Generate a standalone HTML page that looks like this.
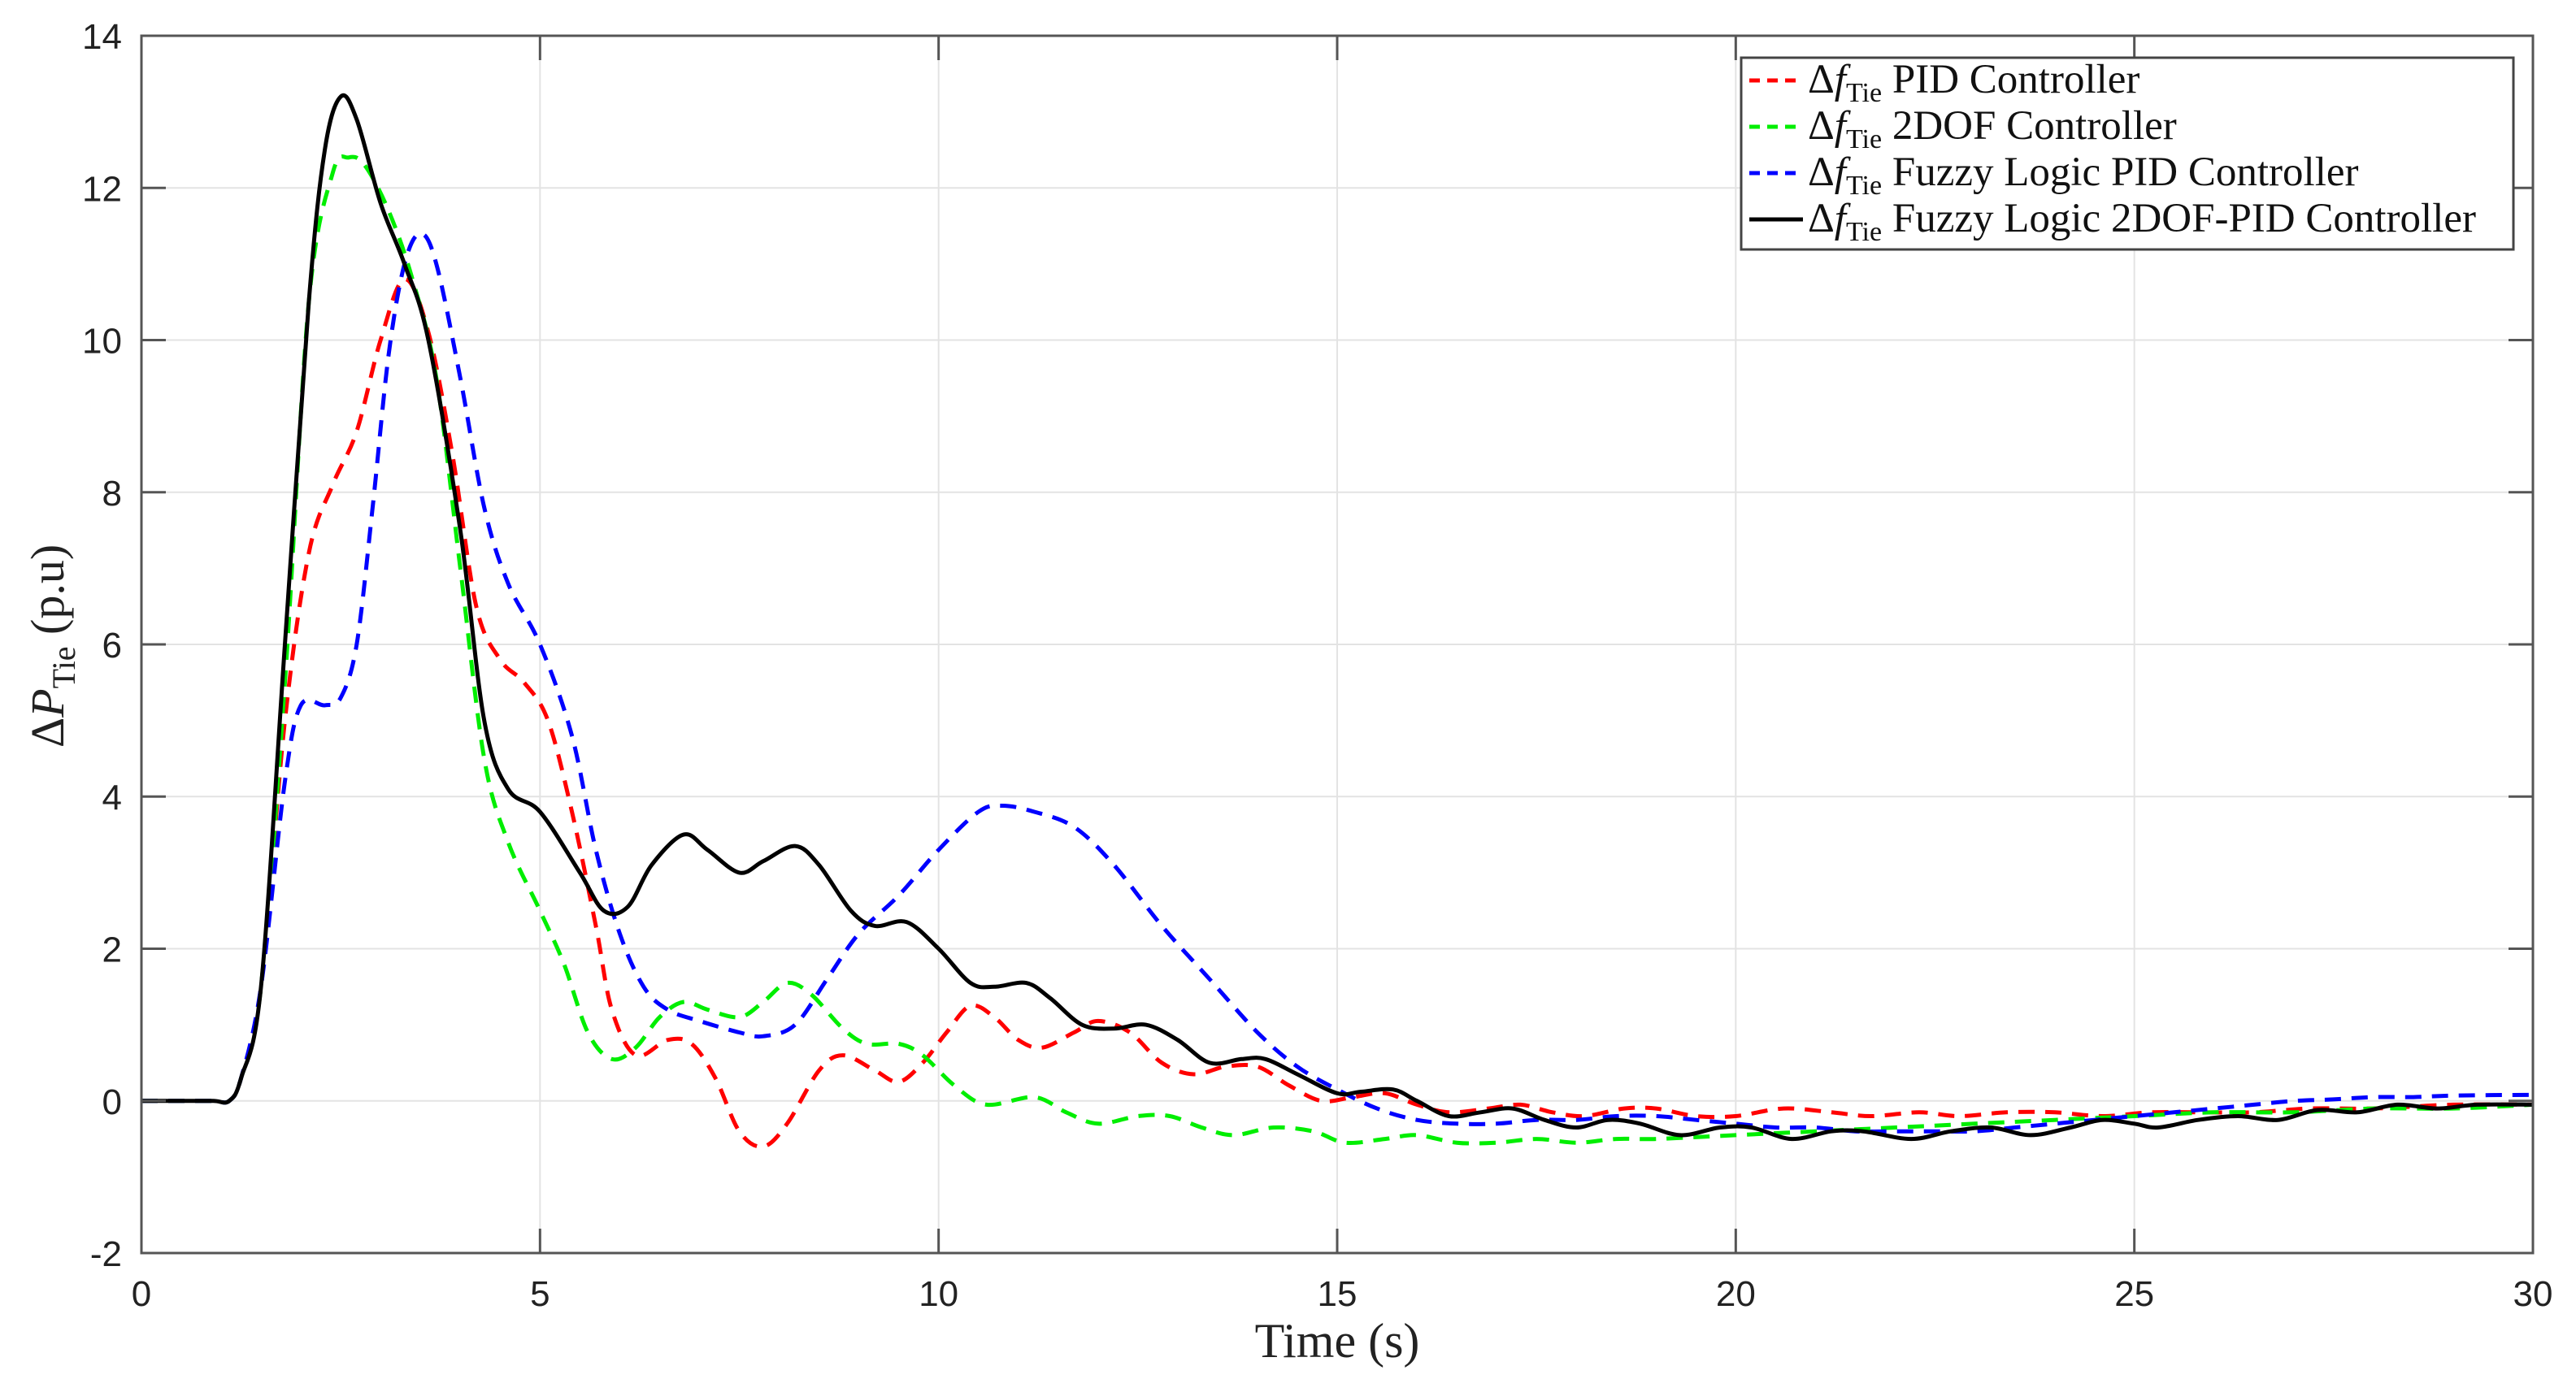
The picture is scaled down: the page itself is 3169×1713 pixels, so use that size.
<!DOCTYPE html>
<html><head><meta charset="utf-8"><style>
html,body{margin:0;padding:0;background:#fff;}
svg{display:block;}
</style></head><body>
<svg id="chart" width="3169" height="1713" viewBox="0 0 3169 1713" xmlns="http://www.w3.org/2000/svg">
<rect x="0" y="0" width="3169" height="1713" fill="#fff"/>
<g id="grid"></g>
<g id="series"></g>
<g id="axes"></g>
<text x="1645" y="1670" font-family="Liberation Serif, serif" font-size="60" text-anchor="middle" fill="#222">Time (s)</text>
<g transform="translate(78,795) rotate(-90)">
<text x="0" y="0" font-family="Liberation Serif, serif" font-size="58" text-anchor="middle" fill="#222">Δ<tspan font-style="italic">P</tspan><tspan font-size="40" dy="14">Tie</tspan><tspan dy="-14"> (p.u)</tspan></text>
</g>
<g id="legend">
<rect x="2142" y="71" width="950" height="236" fill="#fff" stroke="#444" stroke-width="3"/>
</g>
</svg>
<script>
const xTicks=[0,5,10,15,20,25,30];
const yTicks=[-2,0,2,4,6,8,10,12,14];
const tRed=[0,0.5,0.9,1.1,1.25,1.5,1.8,2.1,2.4,2.7,3.0,3.3,3.6,3.9,4.2,4.5,4.8,5.1,5.4,5.7,5.9,6.2,6.6,6.9,7.2,7.5,7.8,8.1,8.5,8.8,9.2,9.5,9.8,10.1,10.4,10.7,11.0,11.3,11.7,12.0,12.4,12.8,13.2,13.6,14.0,14.4,14.8,15.2,15.6,16.0,16.4,16.9,17.3,17.7,18.1,18.6,19.0,19.5,20.0,20.6,21.2,21.7,22.3,22.8,23.4,24.0,24.6,25.2,25.8,26.5,27.2,28,29,30];
const vRed=[0,0,0,0,0.3,1.5,5,7.2,8.1,8.8,10.0,10.8,10.1,8.5,6.5,5.8,5.5,5.0,3.8,2.3,1.2,0.6,0.8,0.75,0.3,-0.4,-0.6,-0.3,0.4,0.6,0.4,0.25,0.5,0.9,1.25,1.1,0.8,0.7,0.9,1.05,0.9,0.5,0.35,0.45,0.45,0.2,0.0,0.05,0.1,-0.05,-0.15,-0.1,-0.05,-0.15,-0.2,-0.1,-0.1,-0.2,-0.2,-0.1,-0.15,-0.2,-0.15,-0.2,-0.15,-0.15,-0.2,-0.15,-0.15,-0.15,-0.1,-0.1,-0.05,-0.05];
const tGreen=[0,0.5,0.9,1.1,1.25,1.5,1.8,2.1,2.4,2.6,2.8,3.1,3.4,3.7,4.0,4.3,4.6,5.0,5.3,5.6,5.9,6.2,6.5,6.8,7.1,7.5,7.8,8.1,8.4,8.8,9.1,9.5,9.8,10.2,10.6,11.2,11.6,12.0,12.5,12.9,13.3,13.7,14.2,14.7,15.1,15.6,16.0,16.5,17.0,17.5,18.0,18.5,19.0,20,21,22,23,24,25,26,27,28,29,30];
const vGreen=[0,0,0,0,0.3,1.5,5.5,10.5,12.2,12.4,12.3,11.7,10.8,9.5,7.0,4.5,3.4,2.5,1.8,0.9,0.55,0.7,1.1,1.3,1.2,1.1,1.3,1.55,1.4,0.95,0.75,0.75,0.6,0.2,-0.05,0.05,-0.15,-0.3,-0.2,-0.2,-0.35,-0.45,-0.35,-0.4,-0.55,-0.5,-0.45,-0.55,-0.55,-0.5,-0.55,-0.5,-0.5,-0.45,-0.4,-0.35,-0.3,-0.25,-0.2,-0.15,-0.15,-0.1,-0.1,-0.05];
const tBlue=[0,0.5,0.9,1.1,1.25,1.5,1.8,2.0,2.3,2.5,2.7,2.9,3.1,3.3,3.5,3.7,4.0,4.3,4.6,5.0,5.4,5.7,6.0,6.3,6.6,7.0,7.5,7.8,8.2,8.6,9.0,9.5,10.0,10.5,10.8,11.2,11.7,12.2,12.8,13.4,14.0,14.5,15.0,15.5,16.0,16.5,17.0,17.5,18.0,18.5,19,19.5,20,20.5,21,21.5,22,22.5,23,23.5,24,24.5,25,25.5,26,26.5,27,27.5,28,28.5,29,30];
const vBlue=[0,0,0,0,0.3,1.5,4.2,5.2,5.2,5.3,6.0,7.8,9.8,11.0,11.4,11.0,9.5,7.8,6.8,6.0,4.8,3.3,2.2,1.5,1.2,1.05,0.9,0.85,1.0,1.6,2.2,2.7,3.3,3.8,3.88,3.8,3.6,3.1,2.3,1.6,0.9,0.45,0.15,-0.1,-0.25,-0.3,-0.3,-0.25,-0.25,-0.2,-0.2,-0.25,-0.3,-0.35,-0.35,-0.4,-0.4,-0.4,-0.4,-0.35,-0.3,-0.25,-0.2,-0.15,-0.1,-0.05,0,0.02,0.05,0.05,0.07,0.08];
const tBlack=[0,0.5,0.9,1.1,1.25,1.5,1.8,2.1,2.3,2.5,2.7,3.0,3.3,3.6,4.0,4.3,4.6,5.0,5.5,5.8,6.1,6.4,6.8,7.1,7.5,7.8,8.2,8.5,8.9,9.2,9.6,10.0,10.4,10.7,11.1,11.4,11.8,12.2,12.6,13.0,13.4,13.8,14.1,14.5,15.0,15.3,15.7,16.0,16.4,16.8,17.2,17.6,18.0,18.4,18.8,19.3,19.8,20.2,20.7,21.2,21.6,22.2,22.7,23.2,23.7,24.2,24.6,25.0,25.3,25.8,26.3,26.8,27.3,27.8,28.3,28.8,29.3,30];
const vBlack=[0,0,0,0,0.3,1.5,6,10.5,12.5,13.2,12.9,11.8,11.0,10.0,7.5,5.0,4.1,3.8,3.0,2.5,2.55,3.1,3.5,3.3,3.0,3.15,3.35,3.1,2.5,2.3,2.35,2.0,1.55,1.5,1.55,1.35,1.0,0.95,1.0,0.8,0.5,0.55,0.55,0.35,0.1,0.12,0.15,0.0,-0.2,-0.15,-0.1,-0.25,-0.35,-0.25,-0.3,-0.45,-0.35,-0.35,-0.5,-0.4,-0.4,-0.5,-0.4,-0.35,-0.45,-0.35,-0.25,-0.3,-0.35,-0.25,-0.2,-0.25,-0.12,-0.15,-0.05,-0.1,-0.05,-0.05];

const NS='http://www.w3.org/2000/svg';
const L=174,R=3116,T=44,B=1542;
const xMin=0,xMax=30,yMin=-2,yMax=14;
function sx(v){return L+(v-xMin)/(xMax-xMin)*(R-L);}
function sy(v){return B-(v-yMin)/(yMax-yMin)*(B-T);}
function mk(tag,attrs,parent){const e=document.createElementNS(NS,tag);for(const k in attrs)e.setAttribute(k,attrs[k]);parent.appendChild(e);return e;}
const grid=document.getElementById('grid'),axes=document.getElementById('axes'),series=document.getElementById('series'),legend=document.getElementById('legend');
xTicks.forEach(v=>{
  const g=mk('line',{x1:sx(v),x2:sx(v),y1:T,y2:B,stroke:'#e3e3e3','stroke-width':2},grid);
  
  
  const t1=mk('line',{x1:sx(v),x2:sx(v),y1:B,y2:B-30,stroke:'#555','stroke-width':3},axes);
  
  
  const t2=mk('line',{x1:sx(v),x2:sx(v),y1:T,y2:T+30,stroke:'#555','stroke-width':3},axes);
  
  
  const lb=mk('text',{x:sx(v),y:1607,'font-family':'Liberation Sans, sans-serif','font-size':44,'text-anchor':'middle',fill:'#222'},axes);
  lb.textContent=v;
  
  
});
yTicks.forEach(v=>{
  const g=mk('line',{x1:L,x2:R,y1:sy(v),y2:sy(v),stroke:'#e3e3e3','stroke-width':2},grid);
  
  
  const t1=mk('line',{x1:L,x2:L+30,y1:sy(v),y2:sy(v),stroke:'#555','stroke-width':3},axes);
  
  
  const t2=mk('line',{x1:R,x2:R-30,y1:sy(v),y2:sy(v),stroke:'#555','stroke-width':3},axes);
  
  
  const lb=mk('text',{x:L-24,y:sy(v)+16,'font-family':'Liberation Sans, sans-serif','font-size':44,'text-anchor':'end',fill:'#222'},axes);
  lb.textContent=v;
  
  
});
const frame=mk('rect',{x:L,y:T,width:R-L,height:B-T,fill:'none',stroke:'#555','stroke-width':3},axes);



function pathFor(ts,vs){
  const p=ts.map((t,i)=>[sx(t),sy(vs[i])]);
  let d='M'+p[0][0].toFixed(1)+','+p[0][1].toFixed(1);
  for(let i=0;i<p.length-1;i++){
    const p0=p[Math.max(0,i-1)],p1=p[i],p2=p[i+1],p3=p[Math.min(p.length-1,i+2)];
    const c1=[p1[0]+(p2[0]-p0[0])/6,p1[1]+(p2[1]-p0[1])/6];
    const c2=[p2[0]-(p3[0]-p1[0])/6,p2[1]-(p3[1]-p1[1])/6];
    d+=' C'+c1[0].toFixed(1)+','+c1[1].toFixed(1)+' '+c2[0].toFixed(1)+','+c2[1].toFixed(1)+' '+p2[0].toFixed(1)+','+p2[1].toFixed(1);
  }
  return d;
}
const defs=[
 {t:tRed,v:vRed,c:'#ff0000',dash:'20 13',name:'pid-line',label:' PID Controller'},
 {t:tGreen,v:vGreen,c:'#00ee00',dash:'20 13',name:'2dof-line',label:' 2DOF Controller'},
 {t:tBlue,v:vBlue,c:'#0000ff',dash:'20 13',name:'fuzzy-pid-line',label:' Fuzzy Logic PID Controller'},
 {t:tBlack,v:vBlack,c:'#000000',dash:'none',name:'fuzzy-2dof-pid-line',label:' Fuzzy Logic 2DOF-PID Controller'}
];
defs.forEach((s,i)=>{
  const pth=mk('path',{d:pathFor(s.t,s.v),fill:'none',stroke:s.c,'stroke-width':5,'stroke-dasharray':s.dash,'stroke-linejoin':'round'},series);
  
  
  const y=99+i*57;
  const ll=mk('line',{x1:2152,x2:2218,y1:y,y2:y,stroke:s.c,'stroke-width':5,'stroke-dasharray':s.dash==='none'?'none':'13 9'},legend);
  
  
  const tx=mk('text',{x:2224,y:y+15,'font-family':'Liberation Serif, serif','font-size':51,fill:'#111'},legend);
  
  
  tx.innerHTML='Δ<tspan font-style="italic">f</tspan><tspan font-size="34" dy="11">Tie</tspan><tspan dy="-11">'+s.label+'</tspan>';
});
</script>
</body></html>
